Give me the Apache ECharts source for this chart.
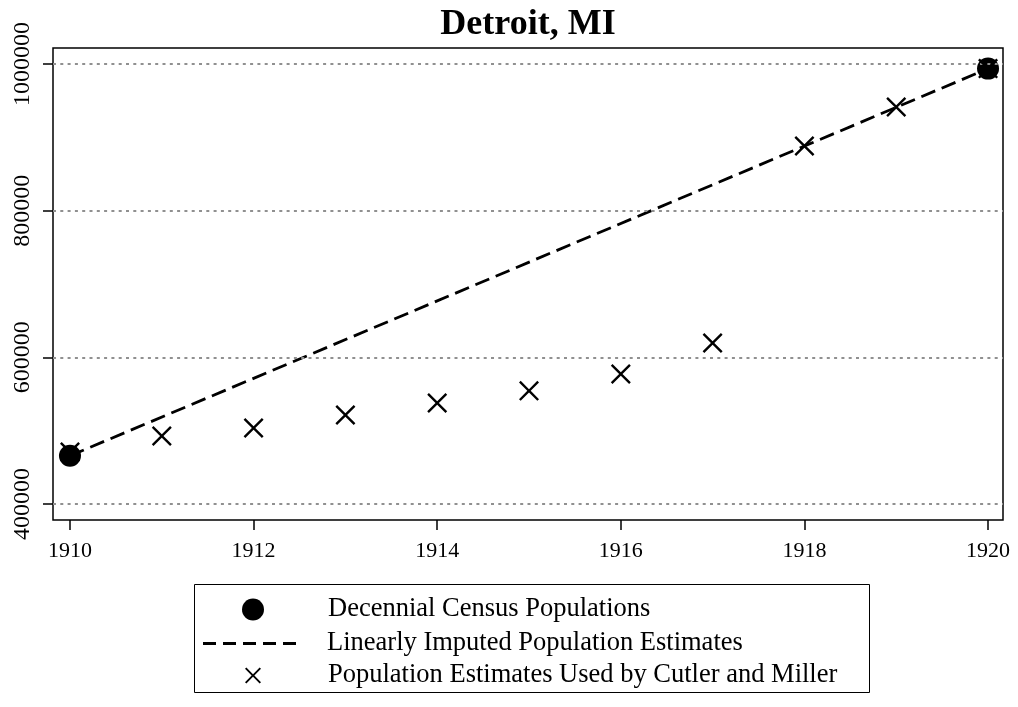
<!DOCTYPE html>
<html>
<head>
<meta charset="utf-8">
<script src="https://cdn.jsdelivr.net/npm/echarts@6/dist/echarts.min.js"></script>
<style>html,body{margin:0;padding:0;background:#fff}#c{width:1018px;height:707px}</style>
</head>
<body>
<div id="c"></div>
<script>
// ---- data ----
var titleText = 'Detroit, MI';
var xTicks = [1910, 1912, 1914, 1916, 1918, 1920];
var yTicks = [400000, 600000, 800000, 1000000];
var censusYears = [1910, 1920];
var censusValues = [465766, 993678];
var linearYears = [1910, 1920];
var linearValues = [465766, 993678];
var cmYears = [1910, 1911, 1912, 1913, 1914, 1915, 1916, 1917, 1918, 1919, 1920];
var cmValues = [471000, 492700, 503600, 521400, 537700, 554300, 577300, 619500, 888200, 941400, 993700];
var seriesNames = ['Decennial Census Populations', 'Linearly Imputed Population Estimates', 'Population Estimates Used by Cutler and Miller'];

function pairs(xs, ys) { return xs.map(function (x, i) { return [x, ys[i]]; }); }

var FONT = '"Liberation Serif", "DejaVu Serif", serif';
var XPATH = 'path://M0,1.7L1.7,0L10,8.3L18.3,0L20,1.7L11.7,10L20,18.3L18.3,20L10,11.7L1.7,20L0,18.3L8.3,10Z';
var DASHPATH = 'path://M0,0L13,0L13,3L0,3ZM20,0L33,0L33,3L20,3ZM40,0L53,0L53,3L40,3ZM60,0L73,0L73,3L60,3ZM80,0L93,0L93,3L80,3Z';

function legendText(pad) {
  return {fontFamily: FONT, fontSize: 26.5, color: '#000', padding: [0, 0, 0, pad]};
}

var chart = echarts.init(document.getElementById('c'), null, {renderer: 'canvas'});
chart.setOption({
  animation: false,
  backgroundColor: '#fff',
  title: {
    text: titleText, left: 523, top: 2, textAlign: 'center',
    textStyle: {fontFamily: FONT, fontSize: 36, fontWeight: 'bold', color: '#000'}
  },
  grid: {left: 53, right: 15, top: 48, bottom: 187, show: true, borderColor: '#000', borderWidth: 1.5, backgroundColor: '#fff'},
  xAxis: {
    type: 'value', min: 1909.815, max: 1920.163,
    axisLine: {show: false},
    axisTick: {show: true, length: 10, lineStyle: {color: '#000', width: 1.5}, customValues: xTicks},
    axisLabel: {show: true, margin: 20, customValues: xTicks, fontFamily: FONT, fontSize: 22, color: '#000', formatter: function (v) { return String(v); }},
    splitLine: {show: false}
  },
  yAxis: {
    type: 'value', min: 378200, max: 1021800,
    axisLine: {show: false},
    axisTick: {show: true, length: 10, lineStyle: {color: '#000', width: 1.5}, customValues: yTicks},
    axisLabel: {show: true, rotate: 90, margin: 18, customValues: yTicks, fontFamily: FONT, fontSize: 24, color: '#000', formatter: function (v) { return String(v); }},
    splitLine: {show: false}
  },
  legend: [
    {data: [{name: seriesNames[0], icon: 'circle'}], orient: 'vertical', left: 242, top: 596, padding: 0,
     itemWidth: 22, itemHeight: 22, textStyle: legendText(59), selectedMode: false,
     itemStyle: {color: '#000', opacity: 1}},
    {data: [{name: seriesNames[1], icon: DASHPATH}], orient: 'vertical', left: 203, top: 630, padding: 0,
     itemWidth: 95, itemHeight: 3, textStyle: legendText(25), selectedMode: false,
     itemStyle: {color: '#000', opacity: 1}},
    {data: [{name: seriesNames[2], icon: XPATH}], orient: 'vertical', left: 245, top: 662, padding: 0,
     itemWidth: 16, itemHeight: 16, textStyle: legendText(62), selectedMode: false,
     itemStyle: {color: '#000', opacity: 1}}
  ],
  graphic: [{
    type: 'rect', left: 192, top: 582, shape: {x: 0, y: 0, width: 675, height: 108},
    style: {fill: 'none', stroke: '#000', lineWidth: 1}, z: 100, silent: true
  }],
  series: [
    {
      name: 'grid', type: 'line', data: [], z: 1, silent: true,
      markLine: {
        silent: true, symbol: 'none', label: {show: false},
        lineStyle: {color: '#909090', width: 2.2, type: [3, 4.3]},
        data: yTicks.map(function (v) { return {yAxis: v}; })
      }
    },
    {
      name: seriesNames[0], type: 'scatter', z: 3,
      data: pairs(censusYears, censusValues),
      symbol: 'circle', symbolSize: 22,
      itemStyle: {color: '#000', opacity: 1}
    },
    {
      name: seriesNames[1], type: 'line', z: 4,
      data: pairs(linearYears, linearValues),
      symbol: 'none', showSymbol: false,
      lineStyle: {color: '#000', width: 2.8, type: [15, 7]},
      itemStyle: {color: '#000'}
    },
    {
      name: seriesNames[2], type: 'scatter', z: 5,
      data: pairs(cmYears, cmValues),
      symbol: XPATH, symbolSize: 20, symbolKeepAspect: true,
      itemStyle: {color: '#000', opacity: 1}
    }
  ]
});
</script>
</body>
</html>
